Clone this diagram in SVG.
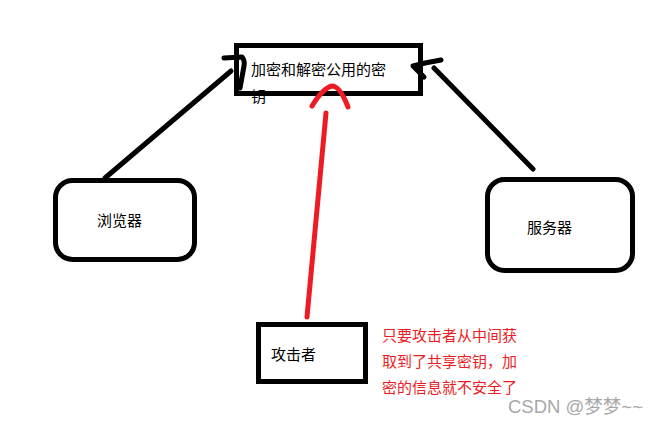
<svg xmlns="http://www.w3.org/2000/svg" width="658" height="426" viewBox="0 0 658 426">
<style>
.box{fill:#fff;stroke:#000;stroke-width:5}
.k{fill:none;stroke:#000;stroke-width:5;stroke-linecap:round;stroke-linejoin:round}
.r{fill:none;stroke:#ed1c24;stroke-width:5;stroke-linecap:round;stroke-linejoin:round}
text{font-family:"Noto Sans CJK SC","Microsoft YaHei",sans-serif;font-size:15px;fill:#000}
.red{fill:#ed1c24}
.wm{fill:#a8a8a8;font-family:"Liberation Sans","Noto Sans CJK SC",sans-serif;font-size:18.500px}
</style>
<rect width="658" height="426" fill="#fff"/>
<g id="key"><rect class="box" x="236.500" y="45.500" width="184" height="48"/>
<text x="251" y="75">加密和解密公用的密</text><text x="251" y="102">钥</text></g>
<g id="browser"><rect class="box" x="55.500" y="180.500" width="139" height="79" rx="17"/><text x="97" y="226">浏览器</text></g>
<g id="server"><rect class="box" x="487.500" y="179.500" width="145" height="91" rx="17"/><text x="527" y="233">服务器</text></g>
<g id="attacker"><rect class="box" x="258.500" y="324.500" width="107" height="57"/><text x="271" y="360">攻击者</text></g>
<g id="note"><text class="red" x="382" y="341">只要攻击者从中间获</text><text class="red" x="382" y="367">取到了共享密钥，加</text><text class="red" x="382" y="393">密的信息就不安全了</text></g>
<g id="connectors">
<path class="k" d="M105 178L231 71"/><path class="k" d="M224 58L242 57Q245 60 244 66L240 88"/>
<path class="k" d="M533 169L434 68"/><path class="k" d="M441 60L425 63L413 66L424 77"/>
<path class="r" d="M307 317L326 113"/><path class="r" d="M312 106Q323 88 332 86Q340 86 348 107"/>
</g>
<text class="wm" x="508" y="413">CSDN @梦梦~~</text>
</svg>
